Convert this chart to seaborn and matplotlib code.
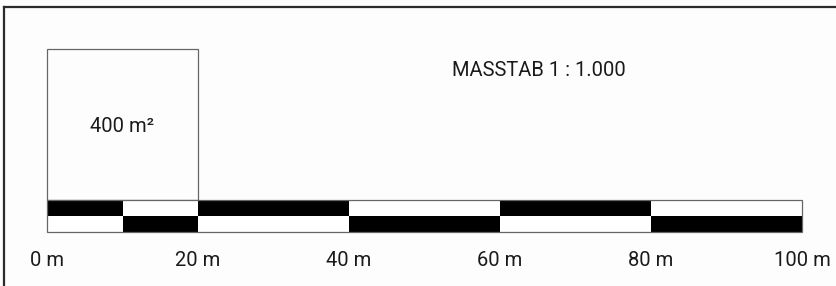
import matplotlib.pyplot as plt
from matplotlib.patches import Rectangle
import seaborn as sns

sns.set_theme(style="white")
plt.rcParams['font.family'] = ['Roboto', 'DejaVu Sans']

# scale bar segments (metres) and which row is black
SEGMENT_EDGES = [0, 10, 20, 40, 60, 80, 100]
TOP_ROW_BLACK = [True, False, True, False, True, False]
TICK_VALUES = [0, 20, 40, 60, 80, 100]
TICK_LABELS = ['0 m', '20 m', '40 m', '60 m', '80 m', '100 m']
AREA_SIDE = 20  # metres, 20 x 20 = 400 m²
AREA_LABEL = '400 m²'
TITLE = 'MASSTAB 1 : 1.000'

BAR_ROW = 2.1
PX_PER_M = 7.55
W, H = 836, 286
FS = 14.5


def main() -> None:
    fig = plt.figure(figsize=(W / 100, H / 100), dpi=100)
    fig.patch.set_facecolor('#fdfdfd')
    left_px, top_px = 4, 7
    ax = fig.add_axes([left_px / W, 0, 1 - left_px / W, 1 - top_px / H])
    ax.set_facecolor('#fdfdfd')

    zero_x, bar_bottom_px = 47, 231.7
    ax.set_xlim(-(zero_x - left_px) / PX_PER_M, (W - zero_x) / PX_PER_M)
    ax.set_ylim(-(H - bar_bottom_px) / PX_PER_M, (bar_bottom_px - top_px) / PX_PER_M)

    for side in ['right', 'bottom']:
        ax.spines[side].set_visible(False)
    for side in ['left', 'top']:
        ax.spines[side].set_color('#2b2b2b')
        ax.spines[side].set_linewidth(1.6)
    ax.set_xticks([])
    ax.set_yticks([])

    starts = SEGMENT_EDGES[:-1]
    widths = [b - a for a, b in zip(SEGMENT_EDGES[:-1], SEGMENT_EDGES[1:])]
    top_colors = ['black' if b else 'white' for b in TOP_ROW_BLACK]
    bottom_colors = ['white' if b else 'black' for b in TOP_ROW_BLACK]

    # area square sitting on the bar
    ax.add_patch(Rectangle((0, 2 * BAR_ROW), AREA_SIDE, AREA_SIDE,
                           fill=False, edgecolor='#666666', linewidth=0.9))
    ax.text(AREA_SIDE / 2, 2 * BAR_ROW + AREA_SIDE / 2 - 0.2, AREA_LABEL,
            ha='center', va='center', fontsize=FS, color='#1a1a1a')

    ax.barh(BAR_ROW / 2, widths, left=starts, height=BAR_ROW,
            color=bottom_colors, edgecolor='none')
    ax.barh(BAR_ROW * 1.5, widths, left=starts, height=BAR_ROW,
            color=top_colors, edgecolor='none')
    ax.add_patch(Rectangle((SEGMENT_EDGES[0], 0), SEGMENT_EDGES[-1], 2 * BAR_ROW,
                           fill=False, edgecolor='#666666', linewidth=0.9))

    for v, lab in zip(TICK_VALUES, TICK_LABELS):
        ax.text(v, -3.75, lab, ha='center', va='center', fontsize=FS, color='#1a1a1a')

    ax.text(65.2, 21.4, TITLE, ha='center', va='center', fontsize=FS, color='#1a1a1a')

    fig.savefig('out.png', dpi=100, facecolor=fig.get_facecolor())


if __name__ == '__main__':
    main()
